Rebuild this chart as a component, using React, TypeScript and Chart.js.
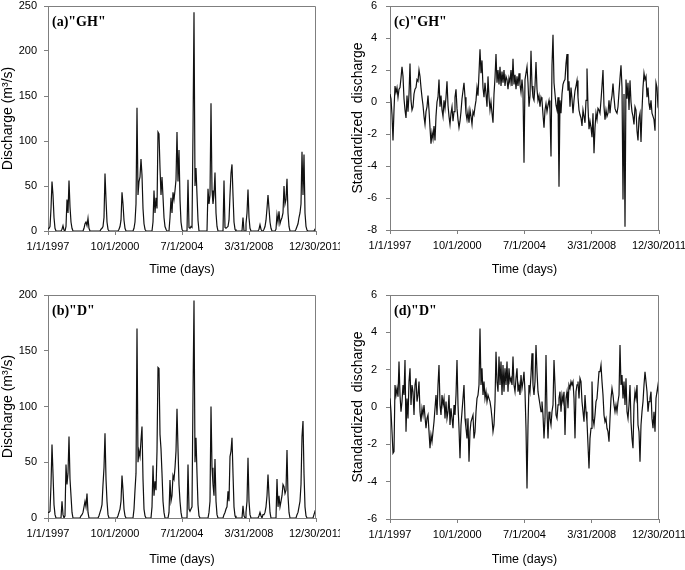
import React, { useEffect, useRef } from "react";
import { Chart, registerables } from "chart.js";

Chart.register(...registerables);

// ---- time axis (days since 1/1/1997) ----
const TOTAL_DAYS = 5476;
const TICK_DAYS = [0, 1369, 2738, 4107, 5476];
const TICK_LABELS = ["1/1/1997", "10/1/2000", "7/1/2004", "3/31/2008", "12/30/2011"];

// ---- series values, evenly spaced over 1/1/1997 .. 12/30/2011 ----
const dischargeGH = [
  2, 3, 5, 25, 55, 40, 15, 3, 0, 0,
  0, 0, 0, 0, 2, 6, 1, 0, 5, 35,
  20, 56, 27, 10, 3, 0, 0, 0, 0, 0,
  0, 0, 0, 0, 0, 0, 3, 8, 10, 6,
  14, 3, 0, 0, 0, 0, 0, 0, 0, 0,
  0, 0, 0, 2, 3, 5, 15, 64, 35, 10,
  2, 0, 0, 0, 0, 0, 0, 0, 0, 0,
  0, 2, 5, 12, 43, 30, 12, 3, 0, 0,
  0, 0, 0, 0, 0, 0, 3, 10, 30, 137,
  40, 55, 60, 80, 62, 25, 8, 2, 0, 0,
  0, 0, 0, 0, 0, 10, 45, 20, 37, 25,
  110, 108, 70, 40, 60, 38, 15, 5, 2, 0,
  0, 0, 15, 37, 20, 43, 35, 45, 57, 110,
  55, 90, 35, 10, 2, 0, 0, 0, 0, 0,
  57, 4, 3, 5, 4, 110, 243, 50, 70, 40,
  12, 0, 0, 0, 0, 0, 0, 0, 0, 0,
  47, 30, 40, 142, 45, 30, 40, 65, 20, 5,
  0, 0, 0, 0, 0, 0, 56, 4, 3, 4,
  5, 12, 40, 64, 74, 40, 10, 2, 0, 0,
  0, 0, 0, 0, 0, 15, 0, 0, 8, 20,
  46, 15, 3, 0, 0, 0, 0, 0, 0, 0,
  0, 2, 7, 2, 0, 0, 2, 5, 12, 25,
  40, 25, 10, 3, 0, 0, 0, 0, 2, 18,
  10, 22, 8, 12, 15, 20, 50, 30, 35, 58,
  20, 5, 0, 0, 0, 0, 0, 0, 2, 5,
  8, 15, 20, 30, 88, 40, 85, 20, 5, 1,
  0, 0, 0, 0, 0, 0, 0, 2, 2,
];

const dischargeD = [
  5, 5, 6, 30, 66, 40, 12, 3, 0, 0,
  0, 0, 0, 0, 15, 3, 0, 2, 48, 30,
  40, 73, 35, 20, 5, 0, 0, 0, 0, 0,
  0, 0, 0, 2, 3, 5, 10, 15, 10, 22,
  5, 0, 0, 0, 0, 0, 0, 0, 0, 0,
  0, 2, 5, 8, 12, 30, 45, 76, 35, 15,
  3, 0, 0, 0, 0, 0, 0, 0, 0, 0,
  2, 5, 8, 15, 38, 25, 8, 2, 0, 0,
  0, 0, 0, 0, 0, 0, 8, 25, 40, 170,
  50, 60, 55, 70, 82, 35, 8, 2, 0, 0,
  0, 0, 0, 0, 10, 47, 20, 33, 25, 60,
  135, 134, 75, 62, 40, 15, 5, 0, 0, 0,
  0, 5, 34, 15, 20, 38, 35, 45, 60, 98,
  62, 30, 15, 5, 0, 0, 0, 0, 0, 0,
  48, 8, 6, 8, 10, 110, 195, 50, 72, 40,
  12, 2, 0, 0, 0, 0, 0, 0, 0, 0,
  0, 5, 15, 100, 45, 30, 20, 53, 15, 3,
  0, 0, 0, 0, 0, 0, 3, 5, 8, 10,
  24, 15, 55, 60, 72, 40, 10, 2, 0, 0,
  0, 0, 0, 0, 0, 11, 2, 0, 5, 15,
  54, 15, 3, 0, 0, 0, 0, 0, 0, 0,
  0, 2, 5, 2, 0, 3, 3, 5, 10, 20,
  39, 20, 5, 0, 0, 0, 0, 0, 0, 35,
  10, 20, 10, 15, 20, 30, 28, 22, 25, 61,
  20, 5, 0, 0, 0, 0, 0, 0, 0, 3,
  5, 10, 15, 30, 73, 87, 40, 10, 2, 0,
  0, 0, 0, 0, 0, 0, 3, 6, 5,
];

const standardizedGH = [
  0.5, 0.2, -0.8, -2.4, -0.5, 1.0, 0.6, 0.9, 0.3, 0.8,
  0.9, 1.5, 2.2, 1.6, 0.2, -0.5, -1.0, 0.4, -0.6, 0.5,
  2.4, 0.1, -0.5, -0.3, 0.5, 0.8, 0.9, 1.4, 1.3, 2.0,
  1.6, 0.9, 0.3, -0.2, -0.9, -1.4, -0.6, -0.3, 0.4, -0.5,
  -1.6, -2.6, -1.9, -2.3, -1.5, -2.4, -0.9, 0.0, 0.3, 1.4,
  -0.3, 0.4, -0.5, -0.9, 0.1, -0.4, 0.3, 1.3, -0.2, -0.9,
  -1.4, -0.7, -0.3, -1.2, -0.6, 0.3, 0.8, -0.4, -1.1, -1.6,
  -1.2, -0.6, 0.2, 0.7, 1.2, 0.3, -0.7, -1.1, -0.6, -1.3,
  -0.5, -0.9, -1.4, -0.6, -0.8, -0.3, 0.1, 0.9, 0.4, 1.8,
  3.3, 1.8, 2.6, 0.9, 0.3, 1.2, 0.5, -0.3, 1.6, 0.3,
  -0.5, 0.0, -0.7, -1.3, 0.5, 1.5, 3.0, 1.2, 2.0, 1.1,
  2.2, 1.0, 1.9, 1.2, 2.0, 1.0, 1.6, 1.4, 0.8, 1.5,
  1.2, 2.0, 1.0, 2.7, 1.1, 1.7, 0.8, 1.6, 1.0, 1.8,
  1.1, 0.6, 1.4, 0.6, -3.8, 1.4, 1.8, 2.2, 1.2, -0.3,
  0.4, 3.2, 1.0, 0.3, 0.1, 1.0, 2.5, 0.8, 0.1, 0.4,
  -0.3, 0.3, 0.1, -0.8, -1.6, -0.5, -0.1, -0.6, -0.2, 0.1,
  -0.5, -3.4, 2.3, 4.2, 1.2, 0.5, -0.2, -0.5, 0.3, -5.3,
  0.1, -0.7, 0.5, 1.1, 1.3, 1.4, 2.4, 3.0, 0.7, 1.3,
  -0.3, 0.9, 0.2, -0.7, 0.1, 0.7, 1.0, 1.35, 0.3, -0.5,
  -0.8, -1.0, -1.5, -0.5, -0.9, -1.3, 0.1, 2.1, -0.3, -1.7,
  -1.2, -1.6, -2.2, -0.7, -3.2, -1.6, -0.7, -1.1, -0.4, -0.5,
  -0.7, 0.1, 1.0, 2.0, -0.3, -1.1, -0.5, -0.9, -0.7, 0.1,
  -0.7, 0.0, 0.4, 1.15, 0.3, -0.4, -0.6, -0.7, -0.3, 0.6,
  1.5, 2.3, 0.9, -6.1, 0.5, -7.8, 1.4, 0.2, 1.2, -0.5,
  1.35, 0.0, -0.6, -0.9, -1.4, -0.3, -0.5, -1.8, -2.4, -1.0,
  -0.7, -2.5, -0.5, 0.9, 1.8, 1.4, 1.6, 0.3, 0.9, -0.1,
  -0.5, 0.1, -0.7, -0.9, -1.1, -1.8, 1.2, 0.9, -0.3, -0.5,
];

const standardizedD = [
  0.46, -0.25, -1.32, -2.48, -2.39, 1.18, 0.64, 1.0, 0.55, 2.43,
  0.64, -0.25, 0.29, 1.18, 0.64, 2.52, -1.32, 0.46, -0.61, 1.36,
  2.07, 0.11, 1.18, 0.82, -0.43, 1.18, 1.54, 0.29, 0.64, 1.36,
  -0.25, -0.79, -0.07, -0.43, 0.11, -0.52, -1.14, -0.61, -0.43, -1.32,
  -2.21, -1.5, -1.86, -1.32, -0.79, -0.07, 0.64, -0.43, 1.18, 2.25,
  0.11, -0.43, 0.64, 0.11, 0.46, -0.61, 0.29, -0.61, -0.25, 0.64,
  -0.96, -0.07, -0.61, -1.14, 0.11, -0.43, 0.64, 2.52, 0.11, -1.14,
  -2.75, -0.96, -0.25, 0.46, 1.18, -0.61, -1.14, -1.68, -0.61, -2.93,
  -1.32, -0.79, -0.61, -0.43, -1.68, -1.32, -0.25, 0.46, 0.64, 1.18,
  4.2, 1.18, 2.07, 0.64, 1.36, 0.46, 0.82, 0.29, 0.64, 0.46,
  0.29, -0.07, -0.61, -1.32, -0.96, 0.29, 2.96, 1.36, 0.82, 2.7,
  1.18, 2.43, 0.64, 2.25, 0.82, 2.07, 1.18, 2.43, 0.82, 2.07,
  1.36, 1.54, 1.18, 2.7, 1.18, 0.82, 1.54, 2.07, 0.82, 1.18,
  0.64, 1.71, 1.0, 1.36, 1.89, 0.82, -1.14, -4.36, -0.96, 1.18,
  0.82, 1.71, 2.88, 1.18, 0.64, 1.36, 3.32, 1.89, 0.82, 0.46,
  0.11, -0.25, 0.29, -0.43, -1.68, -0.61, 2.79, -0.25, -1.68, -0.25,
  -0.61, -0.96, -0.25, 0.11, 2.52, 1.18, -0.43, -0.61, 0.11, 0.46,
  0.82, -0.25, 0.64, 0.29, 0.82, -1.5, 0.46, 0.82, -0.07, 1.18,
  1.0, 1.36, 1.18, 1.36, 0.46, -1.68, 0.82, 1.18, 1.36, 0.46,
  1.54, 1.36, 0.29, -0.25, -0.79, 0.64, -0.25, -0.79, -2.04, -3.29,
  -1.68, -1.14, 1.36, -0.61, -0.96, -0.43, 0.29, 0.46, 1.18, 1.89,
  1.89, 2.25, 1.36, 0.64, -0.43, -0.79, -0.61, -1.14, -1.32, -1.86,
  -0.61, 0.46, 1.0, 0.64, 0.11, -0.25, 0.11, -0.25, 0.29, 0.64,
  3.32, 1.18, 1.71, 0.46, 1.36, 0.11, 1.54, -0.25, -0.61, 0.11,
  1.18, -0.79, -1.68, -2.21, 0.11, 0.82, 0.46, 1.18, -0.96, -1.32,
  -2.93, -0.96, -0.25, 0.29, 1.18, 1.89, 1.36, 0.82, -0.25, 0.29,
  0.46, 0.82, -0.61, -1.14, -0.25, -1.32, 0.46, 0.82, 1.18, 0.29,
];

const SANS = "'Liberation Sans', Arial, sans-serif";
const AXIS_COLOR = "#7f7f7f";

type Panel = {
  label: string;
  values: number[];
  yMin: number;
  yMax: number;
  yStep: number;
  yTitle: string;
  left: number;
  top: number;
  width: number;
  height: number;
  padTop: number;
  padRight: number;
  yAxisWidth: number;
  xAxisHeight: number;
  yTitlePad: number;
  yTickPad: number;
  xTitlePad: number;
};

const PANELS: Panel[] = [
  { label: '(a)"GH"', values: dischargeGH, yMin: 0, yMax: 250, yStep: 50, yTitle: "Discharge (m³/s)",
    left: 0, top: 0, width: 340, height: 285, padTop: 6, padRight: 24, yAxisWidth: 48, xAxisHeight: 54,
    yTitlePad: 0, yTickPad: 7, xTitlePad: 8 },
  { label: '(c)"GH"', values: standardizedGH, yMin: -8, yMax: 6, yStep: 2, yTitle: "Standardized  discharge",
    left: 340, top: 0, width: 345, height: 285, padTop: 6, padRight: 26, yAxisWidth: 50, xAxisHeight: 55,
    yTitlePad: 10, yTickPad: 9, xTitlePad: 8 },
  { label: '(b)"D"', values: dischargeD, yMin: 0, yMax: 200, yStep: 50, yTitle: "Discharge (m³/s)",
    left: 0, top: 285, width: 340, height: 285, padTop: 10, padRight: 24, yAxisWidth: 48, xAxisHeight: 52,
    yTitlePad: 0, yTickPad: 7, xTitlePad: 3 },
  { label: '(d)"D"', values: standardizedD, yMin: -6, yMax: 6, yStep: 2, yTitle: "Standardized  discharge",
    left: 340, top: 285, width: 345, height: 285, padTop: 10, padRight: 26, yAxisWidth: 50, xAxisHeight: 51,
    yTitlePad: 10, yTickPad: 9, xTitlePad: 3 },
];

const framePlugin = {
  id: "frameAndLabel",
  afterDraw(chart: any, _args: any, opts: any) {
    const { ctx, chartArea } = chart;
    const { left, top, right, bottom } = chartArea;
    ctx.save();
    ctx.strokeStyle = AXIS_COLOR;
    ctx.lineWidth = 1;
    ctx.beginPath();
    const t = Math.round(top) + 0.5;
    const r = Math.round(right) - 0.5;
    ctx.moveTo(Math.round(left), t);
    ctx.lineTo(r, t);
    ctx.lineTo(r, Math.round(bottom));
    ctx.stroke();
    ctx.fillStyle = "#000";
    ctx.font = "bold 14px 'Liberation Serif', 'Times New Roman', serif";
    ctx.textBaseline = "middle";
    ctx.textAlign = "left";
    ctx.fillText(opts.text, left + 4, top + 16.5);
    ctx.restore();
  },
};

function PanelChart({ p }: { p: Panel }) {
  const ref = useRef<HTMLCanvasElement | null>(null);
  useEffect(() => {
    if (!ref.current) return;
    const n = p.values.length;
    const data = p.values.map((v, i) => ({ x: (i * TOTAL_DAYS) / (n - 1), y: v }));
    const chart = new Chart(ref.current, {
      type: "line",
      data: {
        datasets: [
          {
            data,
            borderColor: "#111111",
            borderWidth: 1.2,
            pointRadius: 0,
            tension: 0,
            fill: false,
          },
        ],
      },
      plugins: [framePlugin],
      options: {
        animation: false,
        responsive: false,
        devicePixelRatio: 1,
        events: [],
        layout: { padding: { top: p.padTop, right: p.padRight, left: 0, bottom: 0 } },
        plugins: {
          legend: { display: false },
          tooltip: { enabled: false },
          frameAndLabel: { text: p.label },
        } as any,
        scales: {
          x: {
            type: "linear",
            min: 0,
            max: TOTAL_DAYS,
            afterBuildTicks: (s: any) => {
              s.ticks = TICK_DAYS.map((v) => ({ value: v }));
            },
            afterFit: (s: any) => {
              s.height = p.xAxisHeight;
              s.paddingLeft = 0;
              s.paddingRight = 0;
            },
            ticks: {
              autoSkip: false,
              maxRotation: 0,
              minRotation: 0,
              padding: 5,
              color: "#000",
              font: { family: SANS, size: 11 },
              callback: (v: any) => {
                const k = TICK_DAYS.indexOf(Number(v));
                return k >= 0 ? TICK_LABELS[k] : "";
              },
            },
            grid: { display: true, drawOnChartArea: false, drawTicks: true, tickLength: 4, color: AXIS_COLOR },
            border: { display: true, color: AXIS_COLOR },
            title: {
              display: true,
              text: "Time (days)",
              color: "#000",
              font: { family: SANS, size: 12.5 },
              padding: { top: 0, bottom: p.xTitlePad },
            },
          },
          y: {
            type: "linear",
            min: p.yMin,
            max: p.yMax,
            afterFit: (s: any) => {
              s.width = p.yAxisWidth;
              s.paddingTop = 0;
              s.paddingBottom = 0;
            },
            ticks: {
              stepSize: p.yStep,
              padding: p.yTickPad,
              color: "#000",
              font: { family: SANS, size: 11 },
            },
            grid: { display: true, drawOnChartArea: false, drawTicks: true, tickLength: 4, color: AXIS_COLOR },
            border: { display: true, color: AXIS_COLOR },
            title: {
              display: true,
              text: p.yTitle,
              color: "#000",
              font: { family: SANS, size: 14 },
              padding: { top: p.yTitlePad, bottom: 0 },
            },
          },
        },
      } as any,
    });
    return () => chart.destroy();
  }, [p]);
  return (
    <div style={{ position: "absolute", left: p.left, top: p.top, width: p.width, height: p.height }}>
      <canvas ref={ref} width={p.width} height={p.height} style={{ display: "block", width: p.width, height: p.height }} />
    </div>
  );
}

export default function App() {
  return (
    <div style={{ position: "absolute", left: 0, top: 0, width: 685, height: 570, background: "#fff", overflow: "hidden" }}>
      {PANELS.map((p) => (
        <PanelChart key={p.label} p={p} />
      ))}
    </div>
  );
}
